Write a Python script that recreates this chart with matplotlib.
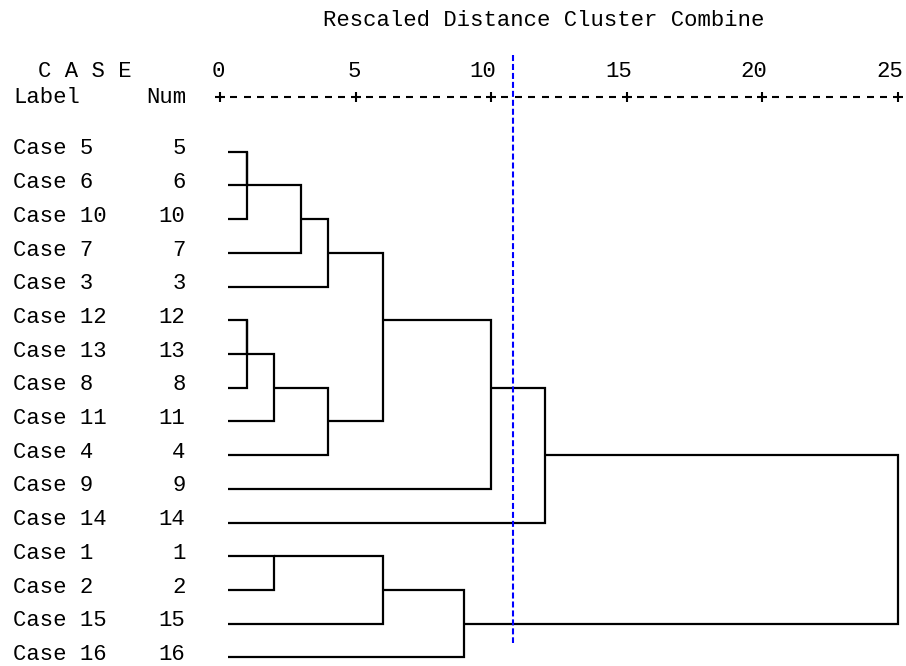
import matplotlib
matplotlib.use("Agg")
import matplotlib.pyplot as plt

plt.rcParams['font.family'] = ['Liberation Mono', 'DejaVu Sans Mono']

# Cases in dendrogram order
case_labels = ["Case 5", "Case 6", "Case 10", "Case 7", "Case 3", "Case 12",
               "Case 13", "Case 8", "Case 11", "Case 4", "Case 9", "Case 14",
               "Case 1", "Case 2", "Case 15", "Case 16"]
case_nums = [5, 6, 10, 7, 3, 12, 13, 8, 11, 4, 9, 14, 1, 2, 15, 16]

# agglomeration schedule: (cluster 1, cluster 2, rescaled distance)
schedule = [
    (5, 6, 1),
    (12, 13, 1),
    (5, 10, 1),
    (8, 12, 1),
    (1, 2, 2),
    (8, 11, 2),
    (5, 7, 3),
    (3, 5, 4),
    (4, 8, 4),
    (3, 4, 6),
    (1, 15, 6),
    (1, 16, 9),
    (3, 9, 10),
    (3, 14, 12),
    (1, 3, 25),
]

tick_values = [0, 5, 10, 15, 20, 25]
cut_distance = 10.8

# pixel layout of the SPSS output
W, H = 906, 666
PX0, PXU = 220.0, 27.1     # x pixel of distance 0, pixels per unit
PY0, PYU = 151.7, 33.71    # y pixel of first case row, pixels per row


def px(x):
    return (x - PX0) / PXU


def py(y):
    return (y - PY0) / PYU


fig = plt.figure(figsize=(W / 100, H / 100), dpi=100)
ax = fig.add_axes([0, 0, 1, 1])
ax.set_xlim(px(0), px(W))
ax.set_ylim(py(H), py(0))
ax.axis('off')

fs = 16
txt = dict(fontsize=fs, color='black', va='baseline')

# header
ax.text(px(323), py(26), "Rescaled Distance Cluster Combine", ha='left', **txt)
ax.text(px(38), py(77), "C A S E", ha='left', **txt)
ax.text(px(13), py(103), "Label", ha='left', **txt)
ax.text(px(186), py(103), "Num", ha='right', **txt)
for t in tick_values:
    ax.text(t + 0.2, py(77), str(t), ha='right', **txt)

# ruler  +---------+---------+ ...
ry = py(97)
dash_x = [0.5 * k for k in range(1, 50) if k % 10 != 0]
ax.hlines([ry] * len(dash_x), [x - 0.13 for x in dash_x], [x + 0.13 for x in dash_x],
          color='black', lw=1.5)
ax.plot(tick_values, [ry] * len(tick_values), '+', color='black', ms=7.5, mew=1.5)

# case rows
for i, (lab, num) in enumerate(zip(case_labels, case_nums)):
    ax.text(px(13), i + 0.08, lab, ha='left', **txt)
    ax.text(px(185.5), i + 0.08, str(num), ha='right', **txt)

# dendrogram
leaf_start = 0.3
pos = {n: (i, leaf_start) for i, n in enumerate(case_nums)}
for c1, c2, d in schedule:
    r1, x1 = pos[c1]
    r2, x2 = pos[c2]
    ax.plot([x1, d, d, x2], [r1, r1, r2, r2], color='black', lw=1.6,
            solid_joinstyle='miter', solid_capstyle='butt')
    pos[c1] = ((r1 + r2) // 2, d)
    del pos[c2]

# cut line
ax.plot([cut_distance, cut_distance], [py(55), py(643)], color='#0000ff', lw=1.5,
        ls=(0, (2.9, 1.4)))

fig.savefig("out.png", dpi=100)
